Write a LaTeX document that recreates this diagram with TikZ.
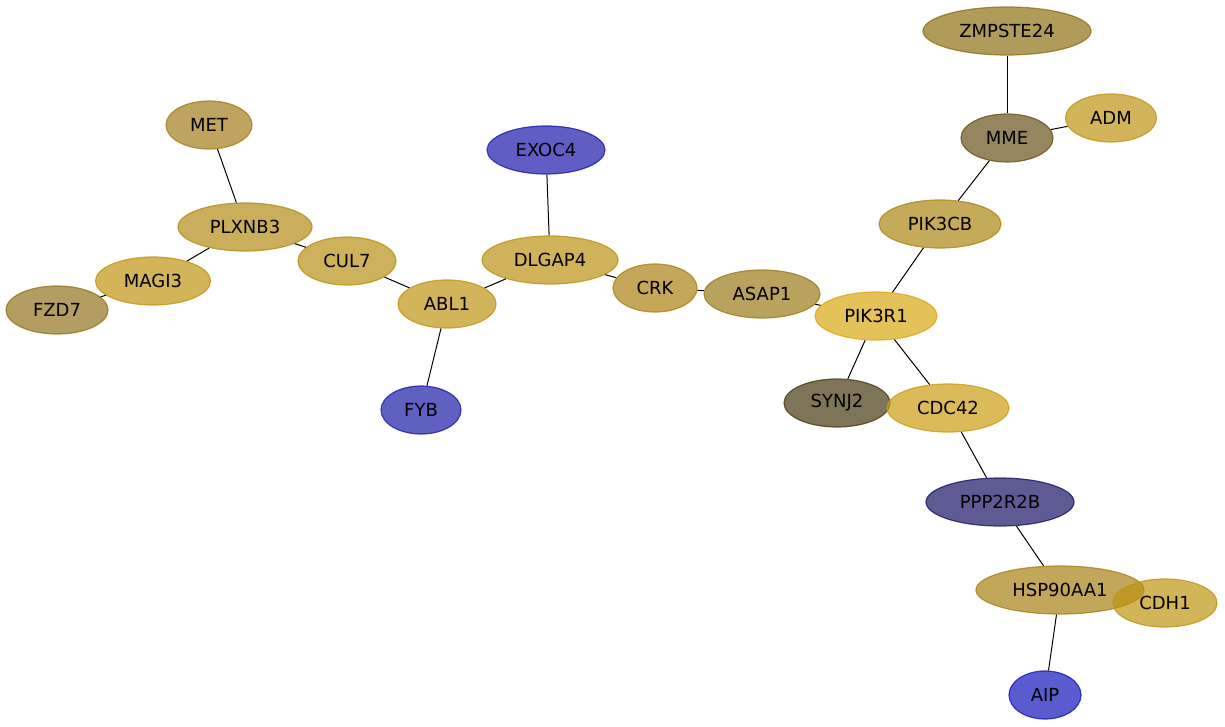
\documentclass[tikz,border=0pt]{standalone}
\usepackage{fontspec}
\setmainfont{DejaVu Sans}
\usetikzlibrary{shapes.geometric}
\definecolor{czmpste}{RGB}{142,112,22}
\definecolor{cmme}{RGB}{105,82,28}
\definecolor{cadm}{RGB}{191,148,22}
\definecolor{cpikcb}{RGB}{171,134,19}
\definecolor{cpikr}{RGB}{218,168,19}
\definecolor{csynj}{RGB}{71,58,19}
\definecolor{ccdc}{RGB}{202,156,19}
\definecolor{cppp}{RGB}{26,22,102}
\definecolor{chsp}{RGB}{168,129,22}
\definecolor{ccdh}{RGB}{191,148,19}
\definecolor{caip}{RGB}{22,22,188}
\definecolor{casap}{RGB}{155,122,25}
\definecolor{ccrk}{RGB}{171,129,19}
\definecolor{cdlgap}{RGB}{188,146,22}
\definecolor{cexoc}{RGB}{28,26,171}
\definecolor{cabl}{RGB}{191,148,22}
\definecolor{cfyb}{RGB}{28,28,165}
\definecolor{ccul}{RGB}{185,145,22}
\definecolor{cplx}{RGB}{179,139,22}
\definecolor{cmet}{RGB}{162,125,25}
\definecolor{cmagi}{RGB}{194,148,19}
\definecolor{cfzd}{RGB}{148,116,28}
\begin{document}
\begin{tikzpicture}[x=1pt, y=-1pt,
    prot/.style={ellipse, draw=#1, fill=#1, fill opacity=0.7, draw opacity=0.8,
        text opacity=1, line width=1.2pt, minimum height=48pt, inner sep=0pt,
        font=\fontsize{18}{21}\selectfont},
    link/.style={line width=1pt}]
    \useasboundingbox (0,0) rectangle (1225,727);
    \node[prot=czmpste, minimum width=168pt] (zmpste) at (1007,31) {ZMPSTE24};
    \node[prot=cmme, minimum width=92pt] (mme) at (1007,138) {MME};
    \node[prot=cadm, minimum width=91pt] (adm) at (1111,118) {ADM};
    \node[prot=cpikcb, minimum width=122pt] (pikcb) at (940,224) {PIK3CB};
    \node[prot=cpikr, minimum width=122pt] (pikr) at (876,316) {PIK3R1};
    \node[prot=csynj, minimum width=106pt] (synj) at (837,403) {SYNJ2};
    \node[prot=ccdc, minimum width=122pt] (cdc) at (948,408) {CDC42};
    \node[prot=cppp, minimum width=148pt] (ppp) at (1000,502) {PPP2R2B};
    \node[prot=chsp, minimum width=168pt] (hsp) at (1060,590) {HSP90AA1};
    \node[prot=ccdh, minimum width=104pt] (cdh) at (1165,603) {CDH1};
    \node[prot=caip, minimum width=72pt] (aip) at (1045,695) {AIP};
    \node[prot=casap, minimum width=116pt] (asap) at (762,294) {ASAP1};
    \node[prot=ccrk, minimum width=84pt] (crk) at (655,288) {CRK};
    \node[prot=cdlgap, minimum width=136pt] (dlgap) at (550,260) {DLGAP4};
    \node[prot=cexoc, minimum width=118pt] (exoc) at (546,150) {EXOC4};
    \node[prot=cabl, minimum width=98pt] (abl) at (447,304) {ABL1};
    \node[prot=cfyb, minimum width=80pt] (fyb) at (421,410) {FYB};
    \node[prot=ccul, minimum width=98pt] (cul) at (347,261) {CUL7};
    \node[prot=cplx, minimum width=134pt] (plx) at (245,227) {PLXNB3};
    \node[prot=cmet, minimum width=86pt] (met) at (209,125) {MET};
    \node[prot=cmagi, minimum width=115pt] (magi) at (153,281) {MAGI3};
    \node[prot=cfzd, minimum width=102pt] (fzd) at (57,310) {FZD7};
    \draw[link] (zmpste) -- (mme);
    \draw[link] (mme) -- (adm);
    \draw[link] (mme) -- (pikcb);
    \draw[link] (pikcb) -- (pikr);
    \draw[link] (asap) -- (pikr);
    \draw[link] (pikr) -- (synj);
    \draw[link] (pikr) -- (cdc);
    \draw[link] (cdc) -- (ppp);
    \draw[link] (ppp) -- (hsp);
    \draw[link] (hsp) -- (aip);
    \draw[link] (crk) -- (asap);
    \draw[link] (dlgap) -- (crk);
    \draw[link] (exoc) -- (dlgap);
    \draw[link] (abl) -- (dlgap);
    \draw[link] (abl) -- (fyb);
    \draw[link] (cul) -- (abl);
    \draw[link] (plx) -- (cul);
    \draw[link] (met) -- (plx);
    \draw[link] (magi) -- (plx);
    \draw[link] (fzd) -- (magi);
\end{tikzpicture}
\end{document}
